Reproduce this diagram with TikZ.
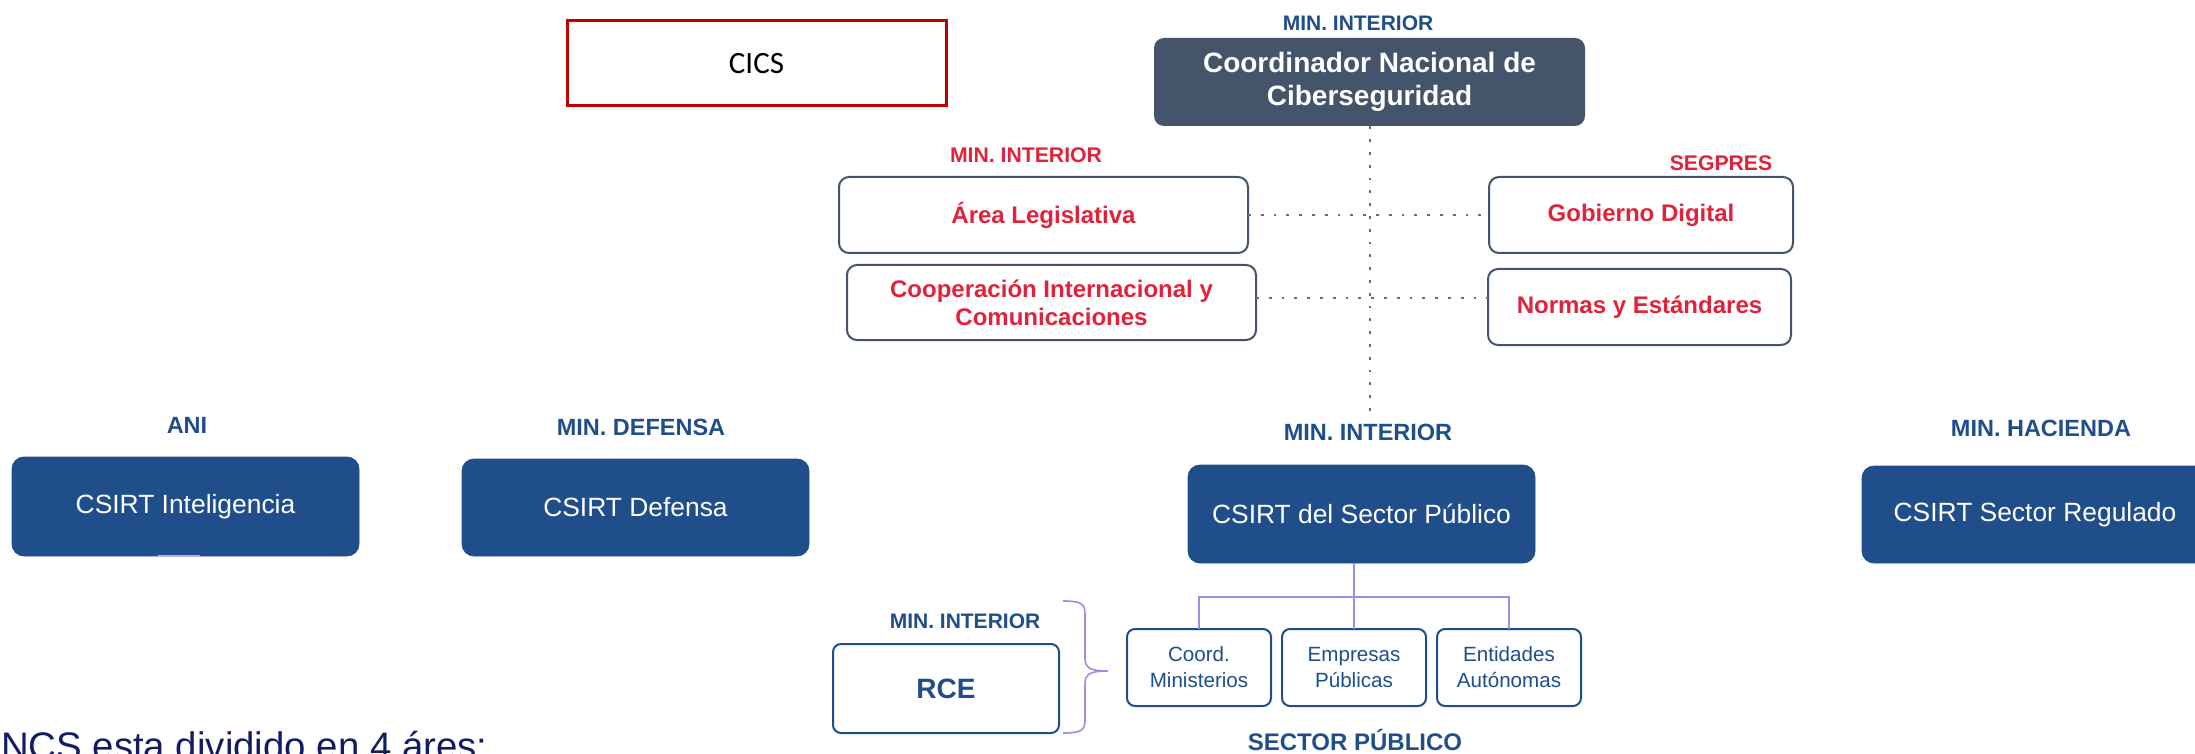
\documentclass[tikz,border=0pt]{standalone}
\usepackage{fontspec}
\setmainfont{Liberation Sans}
\newfontfamily\calibri{Carlito}
\definecolor{navy}{HTML}{204E8A}
\definecolor{slate}{HTML}{44546A}
\definecolor{redtxt}{HTML}{E2223B}
\definecolor{cicsred}{HTML}{C00000}
\definecolor{lilac}{HTML}{9A8FE6}
\definecolor{deepnavy}{HTML}{111C63}
\tikzset{
  navybox/.style={rectangle, rounded corners=6pt, fill=navy, draw=navy, text=white, inner sep=0pt, outer sep=0pt,
    font=\fontsize{13.2}{15}\selectfont},
  outlinebox/.style={rectangle, rounded corners=5pt, fill=white, draw=slate, line width=1pt, text=redtxt, inner sep=0pt, outer sep=0pt,
    align=center, font=\bfseries\fontsize{12}{14}\selectfont},
  smallbox/.style={rectangle, rounded corners=4pt, fill=white, draw=navy, line width=1pt, text=navy, inner sep=0pt, outer sep=0pt,
    align=center, minimum width=72pt, minimum height=38.5pt, font=\fontsize{10.3}{13}\selectfont},
  toplbl/.style={anchor=base, inner sep=0pt, text=navy, font=\bfseries\fontsize{10.5}{12}\selectfont},
  rowlbl/.style={anchor=base, inner sep=0pt, text=navy, font=\bfseries\fontsize{11.75}{13}\selectfont},
  redlbl/.style={anchor=base, inner sep=0pt, text=redtxt, font=\bfseries\fontsize{10.6}{12}\selectfont},
  dotline/.style={draw=gray!85!black, line width=1pt, dash pattern=on 1.4pt off 5pt},
  tree/.style={draw=lilac, line width=0.6pt},
}
\begin{document}
\begin{tikzpicture}[x=0.5pt,y=-0.5pt]
\useasboundingbox (0,0) rectangle (2195,754);
\clip (0,0) rectangle (2195,754);

% CICS
\node[rectangle, draw=cicsred, line width=1.5pt, fill=white, minimum width=189.5pt, minimum height=42.5pt, inner sep=0pt,
  font=\calibri\fontsize{15.5}{17}\selectfont] (cics) at (756.5,63.5) {CICS};

% Coordinator
\node[toplbl] (lblcoord) at (1358,31) {MIN. INTERIOR};
\node[rectangle, rounded corners=5pt, fill=slate, text=white, align=center, inner sep=0pt,
  minimum width=215.5pt, minimum height=44pt, font=\bfseries\fontsize{14}{16.5}\selectfont] (coord) at (1369.5,82)
  {Coordinador Nacional de\\Ciberseguridad};

% red sub-areas
\node[redlbl] (lblleg) at (1026,163) {MIN. INTERIOR};
\node[outlinebox, minimum width=204.5pt, minimum height=38pt] (leg) at (1043.5,215) {Área Legislativa};
\node[outlinebox, minimum width=204.5pt, minimum height=37.5pt] (coop) at (1051.5,302.5) {Cooperación Internacional y\\Comunicaciones};
\node[redlbl] (lblseg) at (1721,171) {SEGPRES};
\node[outlinebox, minimum width=152pt, minimum height=38pt] (gob) at (1641,215) {Gobierno Digital};
\node[outlinebox, minimum width=151.5pt, minimum height=38pt] (norm) at (1639.5,307) {Normas y Estándares};

% dotted connectors
\coordinate (dotend) at (1369.5,420);
\draw[dotline] (coord.south) -- (dotend);
\draw[dotline] (leg.east) -- (gob.west);
\draw[dotline] ([yshift=2pt]coop.east) -- ([yshift=2pt]coop.east -| norm.west);

% CSIRT row
\node[rowlbl] (lblani) at (187,433) {ANI};
\node[navybox, minimum width=173.5pt, minimum height=49.5pt] (intel) at (185.5,506.5) {CSIRT Inteligencia};
\draw[lilac!70!white, line width=1pt] ([xshift=-14pt]intel.south) -- ([xshift=7pt]intel.south);
\node[rowlbl] (lbldef) at (641,435) {MIN. DEFENSA};
\node[navybox, minimum width=173.5pt, minimum height=48.5pt] (def) at (635.5,507.5) {CSIRT Defensa};
\node[rowlbl] (lblsp) at (1368,440) {MIN. INTERIOR};
\node[navybox, minimum width=173.5pt, minimum height=49pt] (sp) at (1361.5,514) {CSIRT del Sector Público};
\node[rowlbl] (lblhac) at (2041,436) {MIN. HACIENDA};
\node[navybox, minimum width=173pt, minimum height=48.5pt] (reg) at (2035,514.5) {CSIRT Sector Regulado};

% sector publico tree
\coordinate (junc) at (1354,597);
\node[smallbox] (cm) at (1199,667.5) {Coord.\\Ministerios};
\node[smallbox] (ep) at (1354,667.5) {Empresas\\Públicas};
\node[smallbox] (ea) at (1509,667.5) {Entidades\\Autónomas};
\draw[tree, line width=1.1pt] (junc |- sp.south) -- (junc);
\draw[tree] (cm.north) |- (junc) -| (ea.north);
\draw[tree] (ep.north) -- (ep.north |- junc);
\node[anchor=base, inner sep=0pt, text=navy, font=\bfseries\fontsize{12}{14}\selectfont] (lblsec) at (1355,750) {SECTOR PÚBLICO};

% RCE
\node[toplbl] (lblrce) at (965,628) {MIN. INTERIOR};
\node[rectangle, rounded corners=4pt, fill=white, draw=navy, line width=1pt, text=navy, inner sep=0pt,
  minimum width=113pt, minimum height=44.5pt, font=\bfseries\fontsize{14}{16}\selectfont] (rce) at (946,688.5) {RCE};

% brace
\coordinate (btop) at (1063,601);
\coordinate (btip) at (1108,671);
\coordinate (bbot) at (1063,733);
\draw[lilac, line width=0.8pt] (btop) .. controls (1080,601) and (1085,603) .. (1085,614)
  -- (1085,658) .. controls (1085,668) and (1090,671) .. (btip)
  .. controls (1090,671) and (1085,674) .. (1085,684)
  -- (1085,720) .. controls (1085,731) and (1080,733) .. (bbot);

% bottom text
\node[anchor=base west, inner sep=0pt, text=deepnavy, font=\fontsize{19.2}{22}\selectfont] (caption) at (-25,759) {ANCS esta dividido en 4 áres:};
\end{tikzpicture}
\end{document}
